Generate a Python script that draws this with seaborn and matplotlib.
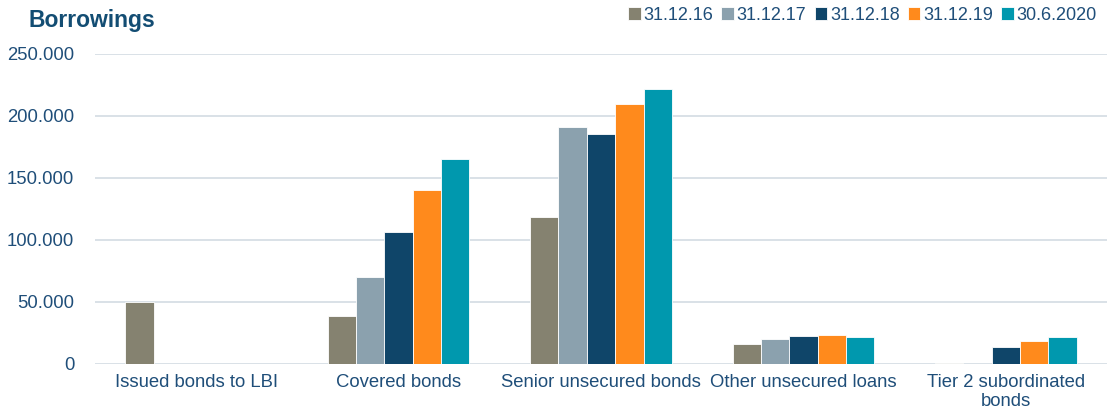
import numpy as np
import pandas as pd
import matplotlib
matplotlib.use("Agg")
import matplotlib.pyplot as plt
import seaborn as sns
from matplotlib.ticker import FuncFormatter

categories = ["Issued bonds to LBI", "Covered bonds", "Senior unsecured bonds",
              "Other unsecured loans", "Tier 2 subordinated\nbonds"]
periods = ["31.12.16", "31.12.17", "31.12.18", "31.12.19", "30.6.2020"]

v_2016 = [50000, 38700, 118500, 16100, 800]
v_2017 = [0, 70200, 191100, 20200, 0]
v_2018 = [0, 106500, 185500, 22600, 13700]
v_2019 = [0, 140300, 209700, 23400, 18500]
v_2020 = [0, 165300, 221800, 21800, 21800]

colors = ["#858270", "#8ba1ae", "#0f4569", "#ff8a1c", "#0098ae"]
text_col = "#1f4e79"

rows = []
for p, vals in zip(periods, [v_2016, v_2017, v_2018, v_2019, v_2020]):
    for c, v in zip(categories, vals):
        rows.append({"category": c, "period": p, "value": v})
df = pd.DataFrame(rows)

sns.set_style("white")
plt.rcParams["font.family"] = ["Liberation Sans", "DejaVu Sans"]

fig = plt.figure(figsize=(11.07, 4.18), dpi=100)
ax = fig.add_axes([95 / 1107, 54 / 418, 1012 / 1107, 310 / 418])

sns.barplot(data=df, x="category", y="value", hue="period", palette=colors,
            order=categories, hue_order=periods, width=0.7, ax=ax, saturation=1,
            edgecolor="white", linewidth=0.6, errorbar=None, zorder=3)

ax.set_ylim(0, 250000)
ax.set_xlim(-0.5, 4.5)
ax.set_yticks(np.arange(0, 250001, 50000))
ax.yaxis.set_major_formatter(FuncFormatter(lambda x, _: f"{int(x):,}".replace(",", ".")))
ax.grid(axis="y", color="#d3dbe3", linewidth=1.2, zorder=0)
ax.set_axisbelow(True)
for s in ax.spines.values():
    s.set_visible(False)
ax.tick_params(axis="both", length=0, labelsize=13.3, colors=text_col, pad=7)
ax.tick_params(axis="y", pad=15)
ax.set_xlabel("")
ax.set_ylabel("")

leg = ax.legend(loc="lower right", bbox_to_anchor=(0.997, 1.075), ncol=5, frameon=False,
                fontsize=13, handlelength=0.7, handleheight=0.7, handletextpad=0.15,
                columnspacing=0.45, borderaxespad=0)
for t in leg.get_texts():
    t.set_color(text_col)

fig.text(28 / 1107, 1 - 20 / 418, "Borrowings", fontsize=16.5, fontweight="bold",
         color="#134d73", va="center", ha="left")

fig.savefig("out.png", dpi=100)
